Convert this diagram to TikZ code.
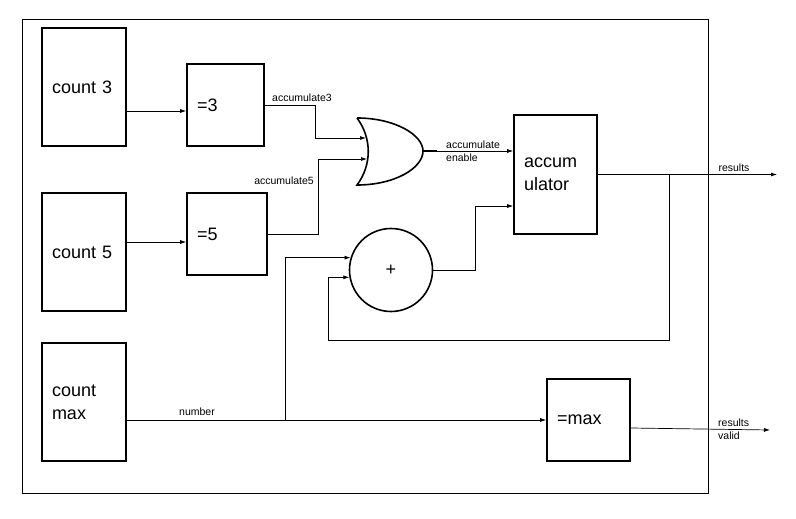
\documentclass[tikz,border=0pt]{standalone}
\usepackage{fontspec}
\setmainfont{Liberation Sans}
\usetikzlibrary{arrows.meta}

\tikzset{
  block/.style 2 args={draw, line width=1.6pt, align=left, inner xsep=10pt, inner ysep=0pt,
    text width=#1, minimum height=#2, font=\fontsize{18}{23}\selectfont},
  wire/.style={line width=0.7pt, -{Latex[length=6pt,width=4pt]}},
  lbl/.style={font=\fontsize{10.5}{13}\selectfont, inner sep=1pt}
}

\begin{document}
\begin{tikzpicture}[x=1pt,y=-1pt]
\useasboundingbox (0,0) rectangle (796,519);

\draw[line width=0.7pt] (22,19) rectangle (708,493);

\node[block={64pt}{118pt}] (cnt3) at (84,87) {count 3};
\node[block={57pt}{82pt}] (eq3) at (225.5,105) {=3};
\node[block={64pt}{118pt}] (cnt5) at (84,252) {count 5};
\node[block={60pt}{82pt}] (eq5) at (227,234) {=5};
\node[block={64pt}{118pt}] (cntmax) at (84,402) {count\\max};
\node[block={63pt}{119pt}] (accum) at (555.5,174.5) {accum\\ulator};
\node[block={63pt}{82pt}] (eqmax) at (588.5,420) {=max};
\node[draw, circle, line width=1.6pt, minimum size=83pt, inner sep=0pt,
  font=\fontsize{18}{23}\selectfont] (plus) at (391,270) {+};

% or gate
\draw[line width=1.6pt] (357,118) .. controls (395,118) and (423,135) .. (423,151)
  .. controls (423,168) and (395,185) .. (357,185)
  .. controls (372,165) and (372,138) .. (357,118);
\coordinate (orin1) at (366,138);
\coordinate (orin2) at (367,159);
\coordinate (orout) at (437,151);
\draw[line width=1.6pt] (423,151) -- (orout);

\coordinate (in3) at ([yshift=-6pt]eq3.west);
\coordinate (in5) at ([yshift=-8pt]eq5.west);
\draw[wire] (cnt3.east |- in3) -- (in3);
\draw[wire] (cnt5.east |- in5) -- (in5);

\draw[wire] (eq3.east) -- ++(51,0) |- (orin1);
\draw[wire] (eq5.east) -- ++(51,0) |- (orin2);
\node[lbl, anchor=south west] (lbl3) at (271,103) {accumulate3};
\node[lbl, anchor=south east] (lbl5) at (315,186) {accumulate5};

\draw[wire] (orout) -- (orout -| accum.west);
\node[lbl, align=left, anchor=west] (lblen) at (445,151) {accumulate\\enable};

\coordinate (acin2) at ([yshift=-31.5pt]accum.west);
\draw[wire] (plus.east) -- ++(42,0) |- (acin2);

\coordinate (res) at (777,174.5);
\draw[wire] (accum.east) -- (res);
\node[lbl, anchor=south] (lblres) at (734,173) {results};

\coordinate (tapres) at (669,174.5);
\coordinate (fb) at (328,340);
\draw[wire] (tapres) |- (fb) |- (plus.190);

\draw[wire] (cntmax.east |- eqmax.west) -- (eqmax.west);
\node[lbl, anchor=south west] (lblnum) at (178,417) {number};
\coordinate (tapnum) at (285,420);
\draw[wire] (tapnum) |- (plus.163);

\coordinate (resv) at (770,430);
\draw[wire] ([yshift=-8pt]eqmax.east) -- (resv);
\node[lbl, align=left, anchor=west] (lblresv) at (717,429.5) {results\\valid};
\end{tikzpicture}
\end{document}
